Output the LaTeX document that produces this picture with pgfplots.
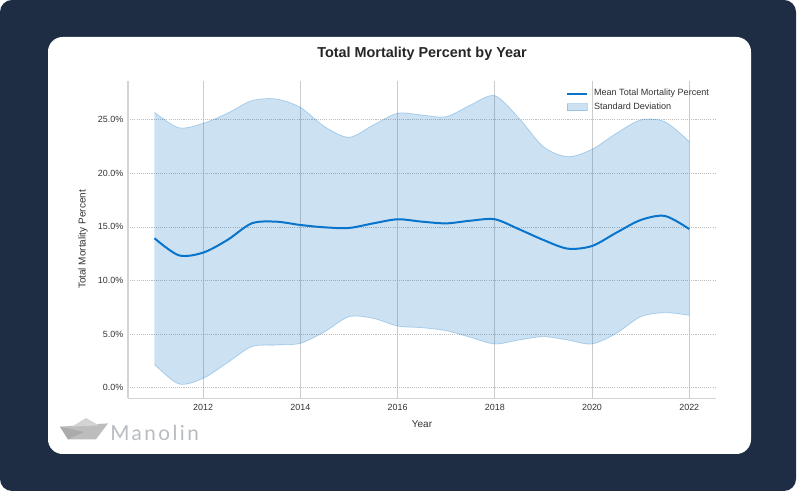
\documentclass[border=0pt]{standalone}
\usepackage{pgfplots}
\pgfplotsset{compat=1.18}
\usepgfplotslibrary{fillbetween}
\usepackage{fontspec}
\setmainfont{Liberation Sans}
\newfontfamily\logofont[LetterSpace=12]{Lato}
\definecolor{navy}{RGB}{30,45,67}
\definecolor{bandblue}{RGB}{0,110,195}
\definecolor{lineblue}{RGB}{8,116,204}
\definecolor{txt}{RGB}{51,51,51}
\definecolor{logogray}{RGB}{184,188,193}

\begin{document}
\begin{tikzpicture}
\begin{axis}[
    at={(96pt,70.275pt)}, anchor=south west,
    scale only axis, width=441pt, height=238.2pt,
    xmin=2010.455, xmax=2022.55, ymin=-0.99, ymax=28.64,
    clip=false,
    axis x line*=bottom, axis y line*=left,
    axis line style={draw=black!17, line width=1pt, -},
    xtick={2012,2014,2016,2018,2020,2022},
    xticklabels={2012,2014,2016,2018,2020,2022},
    ytick={0,5,10,15,20,25},
    yticklabels={0.0\%,5.0\%,10.0\%,15.0\%,20.0\%,25.0\%},
    major tick length=0pt,
    tick label style={font=\fontsize{6.7}{8}\selectfont, text=txt},
    xticklabel style={yshift=-1.2pt},
    yticklabel style={xshift=0pt},
    grid=major,
    major x grid style={draw=black!20, line width=0.75pt},
    major y grid style={draw=black!26, line width=0.55pt, dash pattern=on 0.8pt off 0.8pt},
    title={Total Mortality Percent by Year},
    title style={at={(axis description cs:0.5,1.058)}, anchor=center,
        font=\fontsize{10.8}{13}\selectfont\bfseries, text=black!85},
    xlabel={Year},
    xlabel style={at={(axis description cs:0.5,-0.081)}, anchor=center,
        font=\fontsize{7.5}{9}\selectfont, text=txt},
    ylabel={Total Mortality Percent},
    ylabel style={at={(axis description cs:-0.0765,0.5)}, anchor=center,
        font=\fontsize{7.5}{9}\selectfont, text=txt},
    legend cell align=left,
    legend style={at={(rel axis cs:0.745,0.974)}, anchor=north west,
        draw=none, fill=none, font=\fontsize{6.8}{8}\selectfont, text=txt,
        inner sep=0pt, row sep=3.7pt, column sep=4.5pt,
        nodes={inner sep=0pt, text height=5pt, text depth=1.5pt}},
]
% page background and white card, under the grid
\begin{pgfonlayer}{axis background}
\fill[white] ([shift={(-96pt,-70.275pt)}]rel axis cs:0,0) rectangle ([shift={(504pt,298.725pt)}]rel axis cs:0,0);
\fill[navy, rounded corners=9pt] ([shift={(-96pt,-69.525pt)}]rel axis cs:0,0) rectangle ([shift={(501pt,298.725pt)}]rel axis cs:0,0);
\fill[white, rounded corners=11pt] ([shift={(-60pt,-41.775pt)}]rel axis cs:0,0) rectangle ([shift={(467.25pt,270.975pt)}]rel axis cs:0,0);
\end{pgfonlayer}

% upper edge of the band (mean + sd)
\addplot[name path=up, draw=bandblue, draw opacity=0.25, line width=0.6pt, smooth, forget plot] coordinates {
    (2011,25.69) (2011.5,24.25) (2012,24.66) (2012.5,25.6) (2013,26.77) (2013.5,26.93)
    (2014,26.15) (2014.5,24.35) (2015,23.36) (2015.5,24.5) (2016,25.6) (2016.5,25.44)
    (2017,25.28) (2017.5,26.37) (2018,27.24) (2018.5,25.13) (2019,22.48) (2019.5,21.55)
    (2020,22.24) (2020.5,23.73) (2021,24.97) (2021.5,24.81) (2022,22.95)
};
% lower edge of the band (mean - sd)
\addplot[name path=lo, draw=bandblue, draw opacity=0.25, line width=0.6pt, smooth, forget plot] coordinates {
    (2011,2.18) (2011.5,0.35) (2012,0.87) (2012.5,2.33) (2013,3.83) (2013.5,3.98)
    (2014,4.14) (2014.5,5.22) (2015,6.62) (2015.5,6.47) (2016,5.75) (2016.5,5.6)
    (2017,5.32) (2017.5,4.7) (2018,4.08) (2018.5,4.45) (2019,4.76) (2019.5,4.45)
    (2020,4.08) (2020.5,5.07) (2021,6.62) (2021.5,7.0) (2022,6.75)
};
\addplot[fill=bandblue, fill opacity=0.2, draw=none, forget plot] fill between[of=up and lo];
% mean
\addplot[lineblue, line width=1.5pt, smooth, forget plot] coordinates {
    (2011,13.94) (2011.5,12.35) (2012,12.6) (2012.5,13.78) (2013,15.33) (2013.5,15.49)
    (2014,15.18) (2014.5,14.96) (2015,14.9) (2015.5,15.33) (2016,15.71) (2016.5,15.49)
    (2017,15.33) (2017.5,15.58) (2018,15.71) (2018.5,14.78) (2019,13.78) (2019.5,12.97)
    (2020,13.22) (2020.5,14.46) (2021,15.64) (2021.5,16.02) (2022,14.80)
};

\addlegendimage{lineblue, line width=1.5pt, legend image code/.code={\draw (0pt,0pt) -- (14.8pt,0pt);}}
\addlegendentry{Mean Total Mortality Percent}
\addlegendimage{fill=bandblue, fill opacity=0.2, draw=bandblue, draw opacity=0.25,
    legend image code/.code={\filldraw (0pt,-2.7pt) rectangle (14.8pt,2.7pt);}}
\addlegendentry{Standard Deviation}
\end{axis}

% logo
\fill[black!26] (45pt,49pt) -- (81pt,51.5pt) -- (72pt,39.5pt) -- (51pt,39.5pt) -- cycle;
\fill[black!17] (54pt,49pt) -- (64.5pt,55.5pt) -- (74.25pt,50pt) -- cycle;
\fill[black!33] (45pt,49pt) -- (63pt,45pt) -- (51pt,39.5pt) -- cycle;
\node[anchor=west, inner sep=0pt, text=logogray, font=\logofont\fontsize{15.5}{17}\selectfont]
    at (82.5pt,44.25pt) {Manolin};
\end{tikzpicture}
\end{document}
